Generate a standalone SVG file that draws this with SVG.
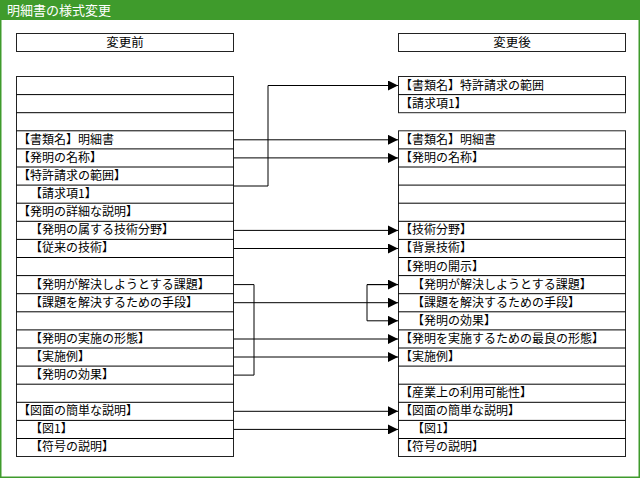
<svg xmlns="http://www.w3.org/2000/svg" width="640" height="478" viewBox="0 0 640 478">
<style>
.c{fill:#fff;stroke:#222;stroke-width:1}
.t{font-family:"Noto Sans CJK JP","Noto Sans CJK SC",sans-serif;font-size:12px;fill:#000}
.h{font-family:"Noto Sans CJK JP",sans-serif;font-size:12.5px;fill:#000;text-anchor:middle}
.w{stroke:#000;stroke-width:1;fill:none}
</style>
<defs><marker id="a" viewBox="0 0 10 10" refX="10" refY="5" markerWidth="10" markerHeight="10" markerUnits="userSpaceOnUse" orient="auto"><path d="M0,0L10,5L0,10Z" fill="#000"/></marker></defs>
<rect x="0" y="0" width="640" height="478" fill="#fff"/>
<rect x="0.75" y="0.75" width="638.5" height="476.5" fill="none" stroke="#3f9b2c" stroke-width="1.5"/>
<rect x="0" y="0" width="640" height="20" fill="#3f9b2c"/>
<text x="7" y="15" font-family="Noto Sans CJK JP,sans-serif" font-size="13" fill="#fff">明細書の様式変更</text>
<g id="hdrL"><rect class="c" x="16.5" y="33.5" width="217" height="18"/><text class="h" x="125" y="47">変更前</text></g>
<g id="hdrR"><rect class="c" x="398.5" y="33.5" width="227" height="18"/><text class="h" x="512" y="47">変更後</text></g>
<g id="left">
<rect class="c" x="16.5" y="76.5" width="217" height="380"/>
<g class="w" stroke="#222">
<path d="M16.5 94.6H233.5M16.5 112.7H233.5M16.5 130.8H233.5M16.5 148.9H233.5M16.5 167H233.5M16.5 185.1H233.5M16.5 203.2H233.5M16.5 221.3H233.5M16.5 239.4H233.5M16.5 257.5H233.5M16.5 275.6H233.5M16.5 293.7H233.5M16.5 311.8H233.5M16.5 329.9H233.5M16.5 348H233.5M16.5 366.1H233.5M16.5 384.2H233.5M16.5 402.3H233.5M16.5 420.4H233.5M16.5 438.5H233.5"/>
</g>
<text class="t" x="18" y="144">【書類名】明細書</text>
<text class="t" x="18" y="162">【発明の名称】</text>
<text class="t" x="18" y="180">【特許請求の範囲】</text>
<text class="t" x="30" y="198">【請求項1】</text>
<text class="t" x="18" y="216">【発明の詳細な説明】</text>
<text class="t" x="30" y="234">【発明の属する技術分野】</text>
<text class="t" x="30" y="252">【従来の技術】</text>
<text class="t" x="30" y="289">【発明が解決しようとする課題】</text>
<text class="t" x="30" y="307">【課題を解決するための手段】</text>
<text class="t" x="30" y="343">【発明の実施の形態】</text>
<text class="t" x="30" y="361">【実施例】</text>
<text class="t" x="30" y="379">【発明の効果】</text>
<text class="t" x="18" y="415">【図面の簡単な説明】</text>
<text class="t" x="30" y="433">【図1】</text>
<text class="t" x="30" y="451">【符号の説明】</text>
</g>
<g id="right">
<rect class="c" x="398.5" y="76.5" width="227" height="36.2"/>
<rect class="c" x="398.5" y="130.8" width="227" height="325.7"/>
<path class="w" stroke="#222" d="M398.5 94.6H625.5M398.5 148.9H625.5M398.5 167H625.5M398.5 185.1H625.5M398.5 203.2H625.5M398.5 221.3H625.5M398.5 239.4H625.5M398.5 257.5H625.5M398.5 275.6H625.5M398.5 293.7H625.5M398.5 311.8H625.5M398.5 329.9H625.5M398.5 348H625.5M398.5 366.1H625.5M398.5 384.2H625.5M398.5 402.3H625.5M398.5 420.4H625.5M398.5 438.5H625.5"/>
<text class="t" x="400" y="90">【書類名】特許請求の範囲</text>
<text class="t" x="400" y="108">【請求項1】</text>
<text class="t" x="400" y="144">【書類名】明細書</text>
<text class="t" x="400" y="162">【発明の名称】</text>
<text class="t" x="400" y="234">【技術分野】</text>
<text class="t" x="400" y="252">【背景技術】</text>
<text class="t" x="400" y="271">【発明の開示】</text>
<text class="t" x="412" y="289">【発明が解決しようとする課題】</text>
<text class="t" x="412" y="307">【課題を解決するための手段】</text>
<text class="t" x="412" y="325">【発明の効果】</text>
<text class="t" x="400" y="343">【発明を実施するための最良の形態】</text>
<text class="t" x="400" y="361">【実施例】</text>
<text class="t" x="400" y="397">【産業上の利用可能性】</text>
<text class="t" x="400" y="415">【図面の簡単な説明】</text>
<text class="t" x="412" y="433">【図1】</text>
<text class="t" x="400" y="451">【符号の説明】</text>
</g>
<g id="connectors" class="w">
<path d="M234 186H268V85.5H398" marker-end="url(#a)"/>
<path d="M234 139.8H398" marker-end="url(#a)"/>
<path d="M234 157.9H398" marker-end="url(#a)"/>
<path d="M234 230.4H398" marker-end="url(#a)"/>
<path d="M234 248.5H398" marker-end="url(#a)"/>
<path d="M234 284.6H254V375.1H234"/>
<path d="M234 302.7H398" marker-end="url(#a)"/>
<path d="M398 284.6H367V320.8H398" marker-end="url(#a)"/>
<path d="M367 284.6H398" marker-end="url(#a)"/>
<path d="M234 339H398" marker-end="url(#a)"/>
<path d="M234 357H398" marker-end="url(#a)"/>
<path d="M234 411.3H398" marker-end="url(#a)"/>
<path d="M234 429.4H398" marker-end="url(#a)"/>
</g>
</svg>
